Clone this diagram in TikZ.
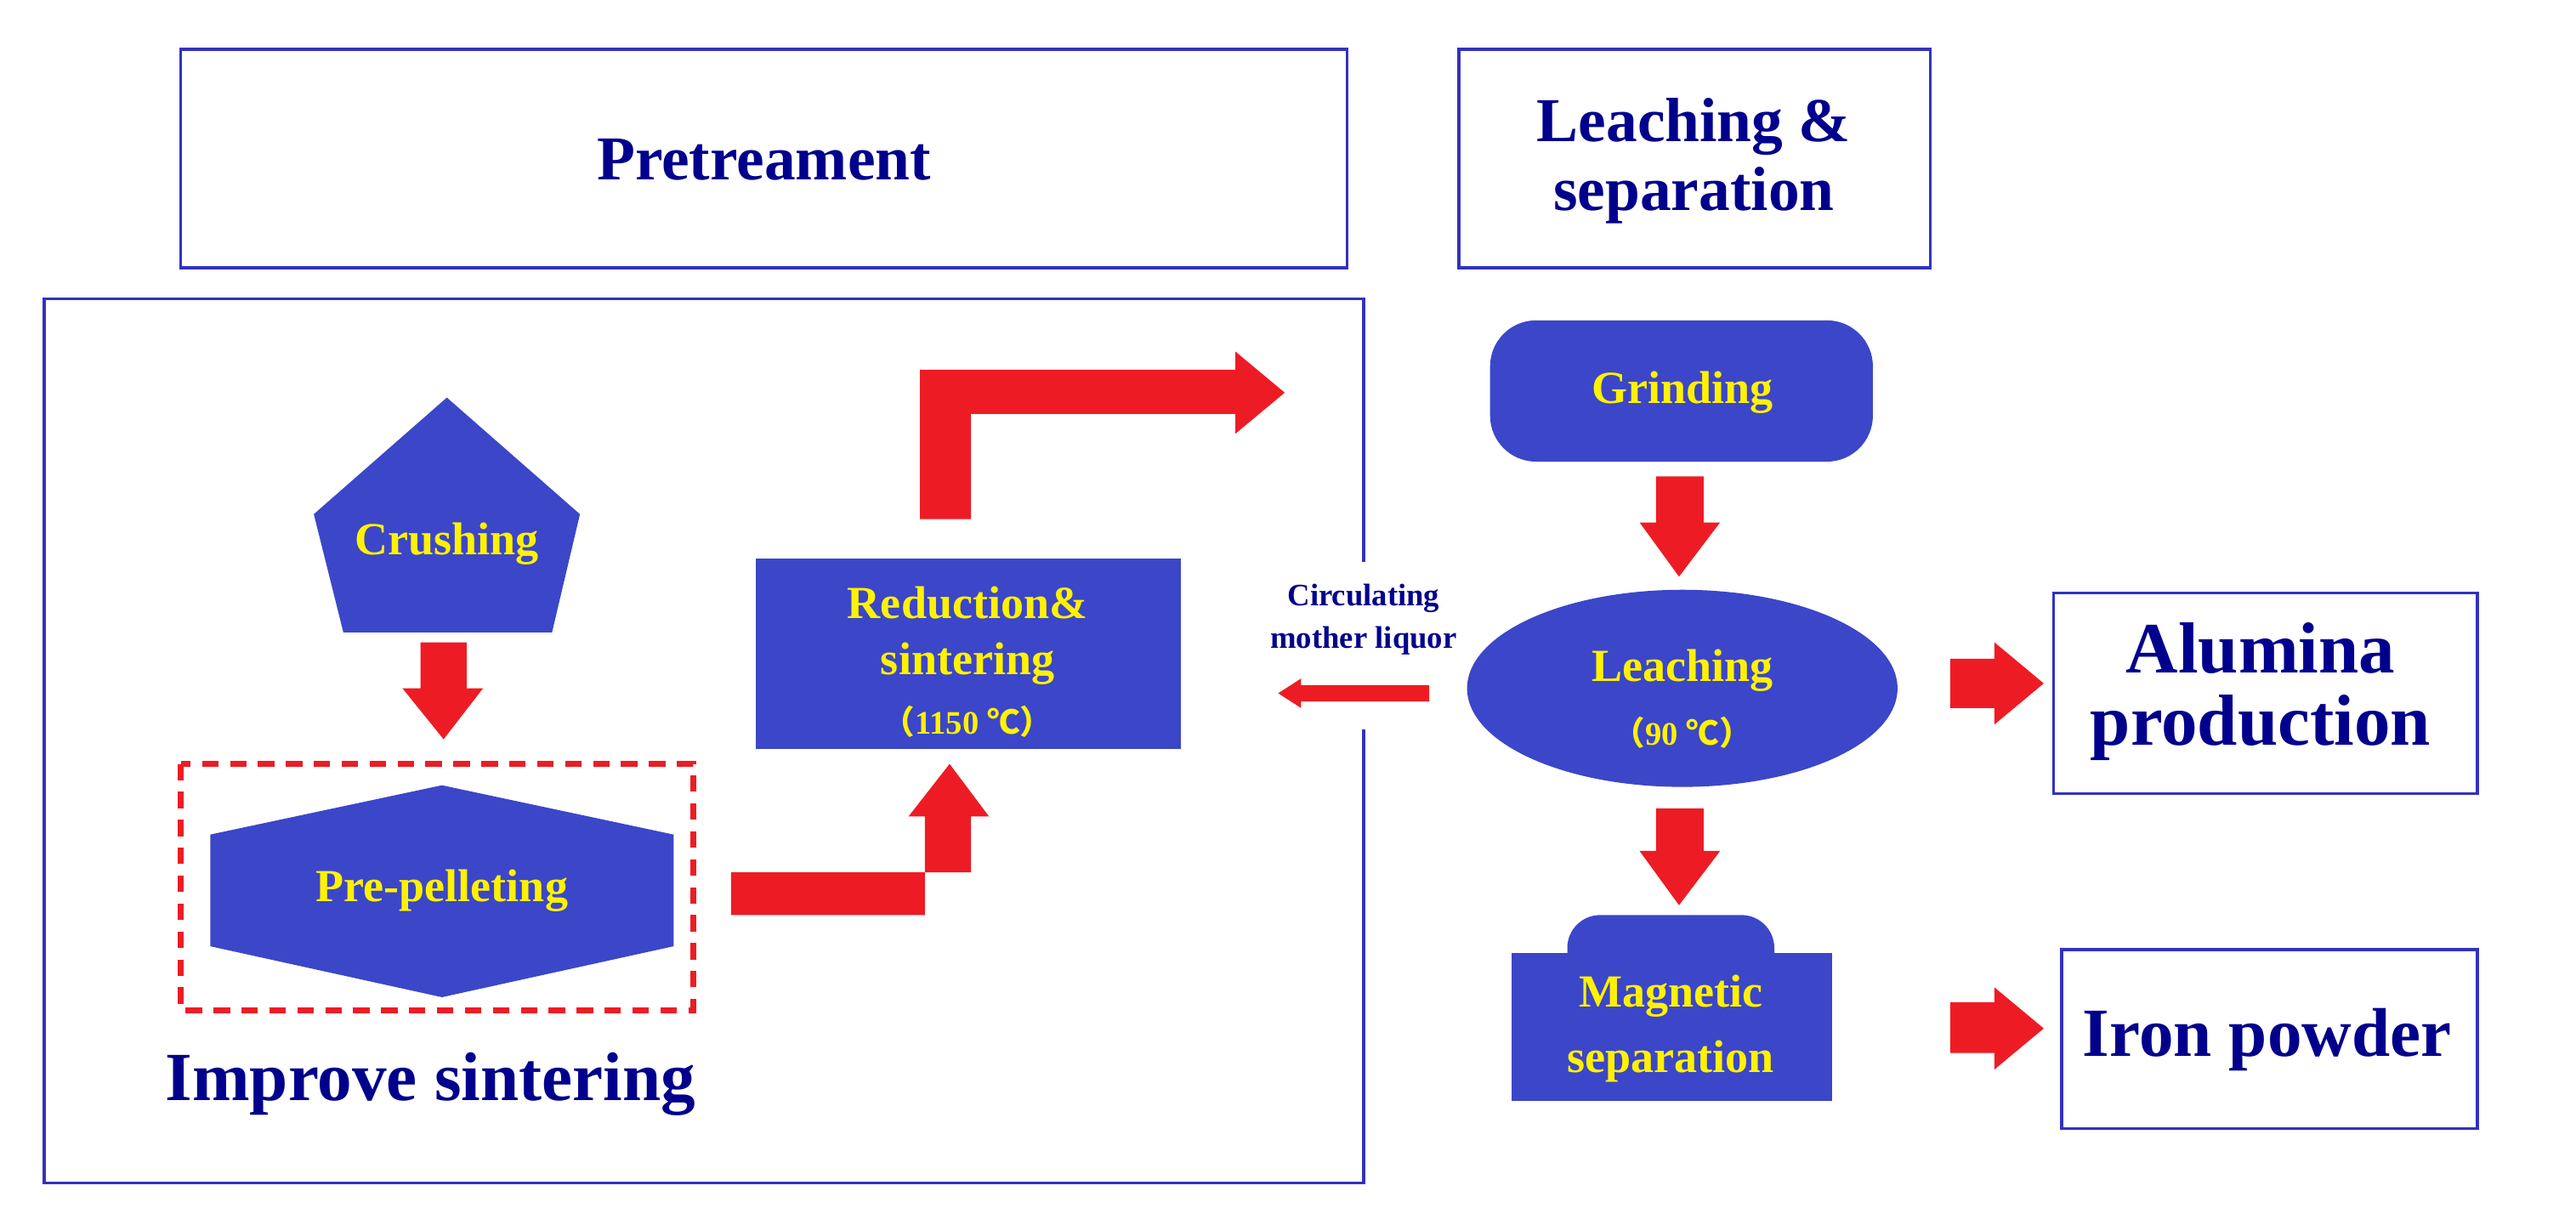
\documentclass[tikz,border=0pt]{standalone}
\usepackage{fontspec}
\setmainfont{Liberation Serif}
\newfontfamily\cjkf{Noto Sans CJK SC}
\begin{document}
\begin{tikzpicture}[x=0.5pt,y=-0.5pt,
  blk/.style={fill=fillb,draw=none},
  ytxt/.style={text=yellow,font=\bfseries,align=center,inner sep=0pt},
  btxt/.style={text=darkb,font=\bfseries,align=center,inner sep=0pt},
  frame/.style={draw=lineb,line width=0.9pt},
  rarr/.style={fill=redc,draw=none}]
\definecolor{fillb}{RGB}{60,70,200}
\definecolor{lineb}{RGB}{50,50,190}
\definecolor{darkb}{RGB}{0,0,140}
\definecolor{redc}{RGB}{237,28,36}
\useasboundingbox (0,0) rectangle (1568,749.3);
% frames
\draw[frame] (110,30) rectangle (820,163);
\node[btxt,font=\bfseries\fontsize{19}{22}\selectfont] (pre) at (465,97) {Pretreament};
\draw[frame] (888,30) rectangle (1175,163);
\node[btxt,font=\bfseries\fontsize{19}{21}\selectfont] (leach) at (1031,98) {Leaching \&\\separation};
\draw[frame] (830,342) -- (830,182) -- (27,182) -- (27,720) -- (830,720) -- (830,444);
% crushing pentagon
\fill[blk] (272,242) -- (353,313) -- (336,385) -- (209,385) -- (191,313) -- cycle;
\node[ytxt,font=\bfseries\fontsize{14}{16}\selectfont] (crush) at (272,331) {Crushing};
\fill[rarr] (256,391) -- (284,391) -- (284,419) -- (294,419) -- (270,450) -- (245,419) -- (256,419) -- cycle;
% dashed box and hexagon
\draw[redc,line width=1.6pt,dash pattern=on 5pt off 3.5pt] (110,465) rectangle (422,615);
\fill[blk] (269,478) -- (410,508) -- (410,576) -- (269,607) -- (128,576) -- (128,508) -- cycle;
\node[ytxt,font=\bfseries\fontsize{14}{16}\selectfont] (pel) at (269,542) {Pre-pelleting};
\node[btxt,font=\bfseries\fontsize{21}{24}\selectfont] (imp) at (262,660) {Improve sintering};
% reduction
\fill[blk] (460,340) rectangle (719,456);
\node[ytxt,font=\bfseries\fontsize{14}{17}\selectfont] (red) at (589,387) {Reduction\&\\sintering};
\node[ytxt,font=\bfseries\fontsize{10}{12}\selectfont] (redt) at (589,439) {{\cjkf （}1150 {\cjkf ℃）}};
\fill[rarr] (445,531) -- (591,531) -- (591,497) -- (602,497) -- (578,465) -- (553,497) -- (563,497) -- (563,557) -- (445,557) -- cycle;
\fill[rarr] (560,316) -- (560,225) -- (752,225) -- (752,214) -- (782,239) -- (752,264) -- (752,252) -- (591,252) -- (591,316) -- cycle;
% circulating
\node[btxt,font=\bfseries\fontsize{9.5}{13}\selectfont] (circ) at (830,377) {Circulating\\mother liquor};
\fill[rarr] (870,417) -- (870,427) -- (792,427) -- (792,431) -- (778,422) -- (792,413) -- (792,417) -- cycle;
% right column
\fill[blk,rounded corners=14pt] (907,195) rectangle (1140,281);
\node[ytxt,font=\bfseries\fontsize{14}{16}\selectfont] (grind) at (1024,239) {Grinding};
\fill[rarr] (1008,290) -- (1037,290) -- (1037,318) -- (1047,318) -- (1022,351) -- (998,318) -- (1008,318) -- cycle;
\fill[blk] (1024,419) ellipse [x radius=131, y radius=60];
\node[ytxt,font=\bfseries\fontsize{14}{16}\selectfont] (lch) at (1024,408) {Leaching};
\node[ytxt,font=\bfseries\fontsize{10}{12}\selectfont] (lcht) at (1024,446) {{\cjkf （}90 {\cjkf ℃）}};
\fill[rarr] (1008,492) -- (1037,492) -- (1037,518) -- (1047,518) -- (1022,551) -- (998,518) -- (1008,518) -- cycle;
\fill[blk] (920,580) rectangle (1115,670);
\fill[blk,rounded corners=10pt] (954,590) -- (954,557) -- (1080,557) -- (1080,590);
\fill[blk] (954,575) rectangle (1080,590);
\node[ytxt,font=\bfseries\fontsize{14}{20}\selectfont] (mag) at (1017,626) {Magnetic\\separation};
% outputs
\fill[rarr] (1187,401) -- (1214,401) -- (1214,391) -- (1244,416) -- (1214,441) -- (1214,431) -- (1187,431) -- cycle;
\draw[frame] (1250,361) rectangle (1508,483);
\node[btxt,font=\bfseries\fontsize{22}{22}\selectfont] (alu) at (1376,421) {Alumina\\production};
\fill[rarr] (1187,610) -- (1214,610) -- (1214,601) -- (1244,626) -- (1214,651) -- (1214,641) -- (1187,641) -- cycle;
\draw[frame] (1255,578) rectangle (1508,687);
\node[btxt,font=\bfseries\fontsize{21}{24}\selectfont] (iron) at (1380,633) {Iron powder};
\end{tikzpicture}
\end{document}
